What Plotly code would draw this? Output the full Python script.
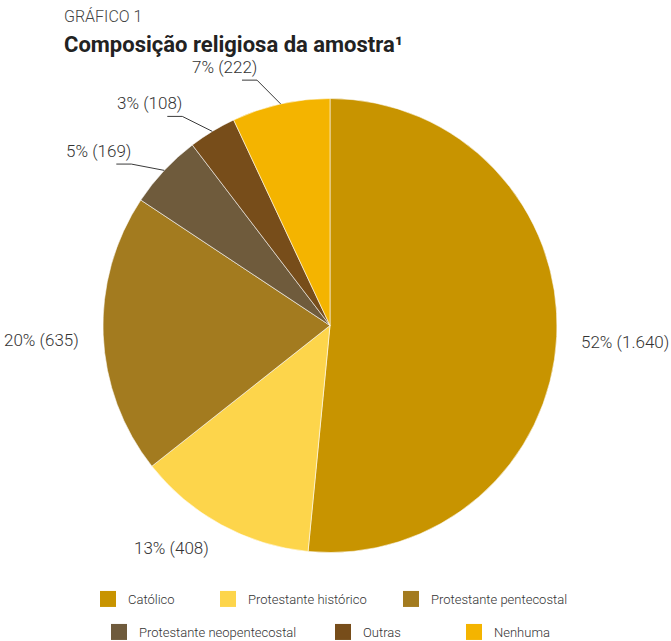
import math
import plotly.graph_objects as go

# Religious composition of the sample (counts), clockwise from 12 o'clock
CATEGORIES = ["Católico", "Protestante histórico", "Protestante pentecostal",
              "Protestante neopentecostal", "Outras", "Nenhuma"]
COUNTS = [1640, 408, 635, 169, 108, 222]
PERCENT_LABELS = ["52%", "13%", "20%", "5%", "3%", "7%"]
COUNT_LABELS = ["1.640", "408", "635", "169", "108", "222"]
COLORS = ["#C89400", "#FDD54B", "#A37B1F", "#6F5B3C", "#774D1A", "#F4B400"]

W, H = 671, 641
CX, CY, R = 330, 325.5, 227          # pie centre and radius in pixels
FONT = "Roboto, Lato, sans-serif"
TEXT = "#333333"


def px(x):
    return x / W


def py(y):
    return 1 - y / H


fig = go.Figure()
fig.add_trace(go.Pie(
    labels=CATEGORIES,
    values=COUNTS,
    sort=False,
    direction="clockwise",
    rotation=0,
    marker=dict(colors=COLORS, line=dict(color="rgba(255,255,255,0.8)", width=0.7)),
    textinfo="none",
    hoverinfo="label+value+percent",
    showlegend=False,
    domain=dict(x=[px(CX - R), px(CX + R)], y=[py(CY + R), py(CY - R)]),
))

annotations = []
shapes = []
label_font = dict(family=FONT, size=17, color=TEXT, weight=300)

# slice labels, placed from each slice's mid-angle
total = sum(COUNTS)
cum = 0
for i, v in enumerate(COUNTS):
    mid = (cum + v / 2) / total * 2 * math.pi
    cum += v
    sx, sy = math.sin(mid), -math.cos(mid)
    label = f"{PERCENT_LABELS[i]} ({COUNT_LABELS[i]})"
    if v / total < 0.10:
        # small slice: leader line bending back onto a short horizontal shelf
        ex, ey = CX + R * sx, CY + R * sy
        bend = mid - 0.07
        kx, ky = CX + (R + 29) * math.sin(bend), CY - (R + 29) * math.cos(bend)
        hx = kx - 15
        shapes.append(dict(type="path", xref="paper", yref="paper",
                           path=f"M {px(ex)},{py(ey)} L {px(kx)},{py(ky)} L {px(hx)},{py(ky)}",
                           line=dict(color="#3a3a3a", width=1)))
        annotations.append(dict(x=px(kx + 2), y=py(ky - 1), xref="paper", yref="paper",
                                text=label, showarrow=False, xanchor="right", yanchor="bottom",
                                font=label_font))
    else:
        lx, ly = CX + (R + 22) * sx, CY + (R + 22) * sy + 4
        annotations.append(dict(x=px(lx), y=py(ly), xref="paper", yref="paper",
                                text=label, showarrow=False,
                                xanchor="left" if sx > 0 else "right", yanchor="middle",
                                font=label_font))

# headings
annotations.append(dict(x=px(62), y=py(17), xref="paper", yref="paper", text="GRÁFICO 1",
                        showarrow=False, xanchor="left", yanchor="middle",
                        font=dict(family=FONT, size=16, color="#444444", weight=300)))
annotations.append(dict(x=px(62), y=py(44), xref="paper", yref="paper",
                        text="<b>Composição religiosa da amostra¹</b>",
                        showarrow=False, xanchor="left", yanchor="middle",
                        font=dict(family=FONT, size=22, color="#222222")))

# legend: one proxy marker per category, two centred rows
LEGEND_ROWS = [(599, [100, 220, 403]), (632, [111, 335, 466])]
legend_layout = {}
k = 0
for row_y, xs in LEGEND_ROWS:
    for lx in xs:
        name = "legend" if k == 0 else f"legend{k + 1}"
        fig.add_trace(go.Scatter(
            x=[None], y=[None], mode="markers", name=CATEGORIES[k],
            marker=dict(symbol="square", size=16, color=COLORS[k]),
            legend=name, showlegend=True, hoverinfo="skip",
        ))
        legend_layout[name] = dict(
            x=px(lx - 12), y=py(row_y), xanchor="left", yanchor="middle",
            bgcolor="rgba(0,0,0,0)", borderwidth=0, itemsizing="trace",
            font=dict(family=FONT, size=13, color=TEXT, weight=300),
        )
        k += 1

fig.update_layout(
    width=W, height=H,
    margin=dict(l=0, r=0, t=0, b=0, autoexpand=False),
    paper_bgcolor="white", plot_bgcolor="white",
    xaxis=dict(visible=False), yaxis=dict(visible=False),
    annotations=annotations, shapes=shapes,
    **legend_layout,
)

fig.write_html("out.html")
